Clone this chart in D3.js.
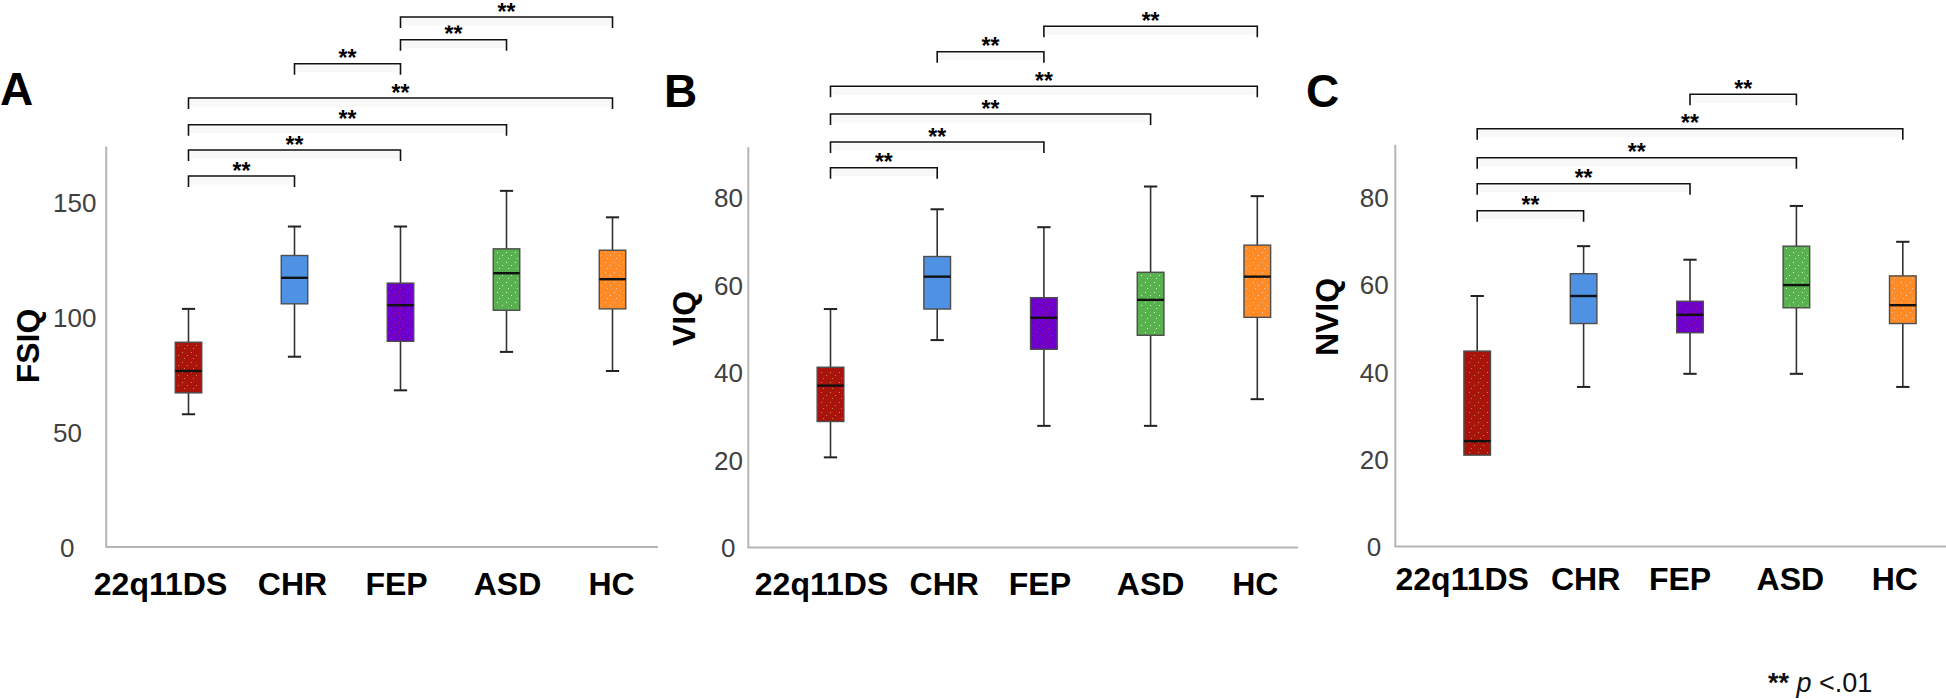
<!DOCTYPE html>
<html><head><meta charset="utf-8">
<script src="https://cdn.jsdelivr.net/npm/d3@7"></script>
<style>
body{margin:0;background:#fff;}
svg{display:block;font-family:"Liberation Sans",Arial,Helvetica,sans-serif;}
</style>
</head><body>
<svg id="chart" width="1946" height="699"></svg>
<script>
// ---------------- DATA ----------------
const groups = ["22q11DS", "CHR", "FEP", "ASD", "HC"];

// FSIQ box plot statistics
const fsiqLow    = [57.7, 82.7, 68.1, 84.8, 76.5];
const fsiqQ1     = [67.0, 105.7, 89.4, 102.9, 103.5];
const fsiqMedian = [76.5, 117.0, 105.1, 119.0, 116.4];
const fsiqQ3     = [89.0, 126.7, 114.7, 129.6, 129.0];
const fsiqHigh   = [103.5, 139.3, 139.3, 154.8, 143.3];
const fsiqTicks  = [0, 50, 100, 150];
const fsiqSig    = [[0,1],[0,2],[0,3],[0,4],[1,2],[2,3],[2,4]];

// VIQ box plot statistics
const viqLow    = [20.6, 47.4, 27.8, 27.8, 33.9];
const viqQ1     = [28.8, 54.5, 45.3, 48.5, 52.6];
const viqMedian = [37.0, 61.9, 52.5, 56.6, 61.9];
const viqQ3     = [41.2, 66.5, 57.1, 62.9, 69.1];
const viqHigh   = [54.5, 77.3, 73.2, 82.5, 80.3];
const viqTicks  = [0, 20, 40, 60, 80];
const viqSig    = [[0,1],[0,2],[0,3],[0,4],[1,2],[2,4]];

// NVIQ box plot statistics
const nviqLow    = [20.9, 36.5, 39.5, 39.5, 36.5];
const nviqQ1     = [20.9, 51.0, 48.9, 54.6, 51.0];
const nviqMedian = [24.1, 57.3, 53.0, 59.8, 55.2];
const nviqQ3     = [44.7, 62.4, 56.1, 68.7, 61.9];
const nviqHigh   = [57.3, 68.7, 65.6, 77.9, 69.7];
const nviqTicks  = [0, 20, 40, 60, 80];
const nviqSig    = [[0,1],[0,2],[0,3],[0,4],[2,3]];

const footnoteStars = "**";
const footnoteP = "p";
const footnoteRest = " <.01";

// ---------------- LAYOUT / STYLE ----------------
const fills = ["#a8140b", "#4f92e4", "#6f00cc", "#58b04f", "#ff8b27"];
const dots  = ["#b5a83a", null, "#c0203a", "#e8ffe8", "#c9dcf7"];

const panels = [
  { letter:"A", title:"FSIQ", low:fsiqLow, q1:fsiqQ1, med:fsiqMedian, q3:fsiqQ3, high:fsiqHigh,
    ticks:fsiqTicks, sig:fsiqSig,
    axisX:105.7, axisTop:146, axisBottom:547, vmax:174.3, xEnd:658,
    firstCenter:188.5, step:106, tickLabelOff:-52.7, catBase:595,
    catDx:[-28,-2,-4,1,-1],
    letterX:0, letterBase:105, titleX:39, titleY:346,
    br:[176,150,124.7,98,63.7,39.7,17] },
  { letter:"B", title:"VIQ", low:viqLow, q1:viqQ1, med:viqMedian, q3:viqQ3, high:viqHigh,
    ticks:viqTicks, sig:viqSig,
    axisX:747.8, axisTop:146.7, axisBottom:547.5, vmax:91.6, xEnd:1298,
    firstCenter:830.5, step:106.7, tickLabelOff:-33.8, catBase:595,
    catDx:[-9,7,-4,0,-2],
    letterX:664, letterBase:107, titleX:695, titleY:318.5,
    br:[167.7,142,114,86.3,51.7,26.3] },
  { letter:"C", title:"NVIQ", low:nviqLow, q1:nviqQ1, med:nviqMedian, q3:nviqQ3, high:nviqHigh,
    ticks:nviqTicks, sig:nviqSig,
    axisX:1394.8, axisTop:144.3, axisBottom:546.5, vmax:92.0, xEnd:1946,
    firstCenter:1477.2, step:106.4, tickLabelOff:-35, catBase:590,
    catDx:[-15,2,-10,-6,-8],
    letterX:1306, letterBase:107, titleX:1338, titleY:317,
    br:[210.7,183.7,157.7,128.7,94.3] }
];

const svg = d3.select("#chart");
const defs = svg.append("defs");

// speckle patterns for the boxes
fills.forEach((f, i) => {
  if (!dots[i]) return;
  const p = defs.append("pattern").attr("id", "dots" + i)
    .attr("patternUnits", "userSpaceOnUse").attr("width", 9).attr("height", 10);
  [[2,2],[7,5],[4,8]].forEach(([cx, cy]) => {
    p.append("rect").attr("x", cx).attr("y", cy).attr("width", 1).attr("height", 1)
      .attr("fill", dots[i]).attr("opacity", 0.85);
  });
});

panels.forEach(P => {
  const g = svg.append("g");
  const y = d3.scaleLinear().domain([0, P.vmax]).range([P.axisBottom, P.axisTop]);
  const x = d3.scaleBand().domain(groups)
    .range([P.firstCenter - P.step / 2, P.firstCenter - P.step / 2 + P.step * groups.length])
    .paddingInner(0).paddingOuter(0);
  const cx = gname => x(gname) + x.bandwidth() / 2;
  const bw = P.step * 0.25;

  // y axis
  const ya = g.append("g").attr("transform", `translate(${P.axisX},0)`)
    .call(d3.axisLeft(y).tickValues(P.ticks).tickSize(0).tickSizeOuter(0).tickFormat(d3.format("d")));
  ya.select(".domain").attr("stroke", "#b5b5b5").attr("stroke-width", 2);
  ya.selectAll(".tick text")
    .attr("x", d => P.tickLabelOff + (d === 0 ? 7 : 0))
    .attr("dy", "0.36em")
    .attr("text-anchor", "start")
    .attr("fill", "#404040")
    .style("font-size", "26px")
    .style("font-family", "'Liberation Sans', Arial, sans-serif");

  // x axis baseline
  g.append("line").attr("x1", P.axisX).attr("x2", P.xEnd)
    .attr("y1", y(0)).attr("y2", y(0))
    .attr("stroke", "#b5b5b5").attr("stroke-width", 2);

  // category labels via band axis
  const xa = g.append("g").attr("transform", `translate(0,${y(0)})`)
    .call(d3.axisBottom(x).tickSize(0));
  xa.select(".domain").remove();
  xa.selectAll(".tick text")
    .attr("y", P.catBase - y(0)).attr("dy", 0)
    .attr("dx", (d, i) => P.catDx[i])
    .attr("fill", "#000")
    .style("font-size", "32px").style("font-weight", "bold")
    .style("font-family", "'Liberation Sans', Arial, sans-serif");

  // boxes
  groups.forEach((gname, i) => {
    const c = cx(gname);
    g.append("line").attr("x1", c).attr("x2", c).attr("y1", y(P.high[i])).attr("y2", y(P.q3[i]))
      .attr("stroke", "#333").attr("stroke-width", 1.6);
    g.append("line").attr("x1", c).attr("x2", c).attr("y1", y(P.q1[i])).attr("y2", y(P.low[i]))
      .attr("stroke", "#333").attr("stroke-width", 1.6);
    [P.high[i], P.low[i]].forEach(v => {
      if (v === P.q1[i]) return;
      g.append("line").attr("x1", c - bw / 4).attr("x2", c + bw / 4)
        .attr("y1", y(v)).attr("y2", y(v)).attr("stroke", "#222").attr("stroke-width", 2);
    });
    g.append("rect").attr("x", c - bw / 2).attr("width", bw)
      .attr("y", y(P.q3[i])).attr("height", y(P.q1[i]) - y(P.q3[i]))
      .attr("fill", fills[i]).attr("stroke", "#4d4d4d").attr("stroke-width", 1.4);
    if (dots[i]) {
      g.append("rect").attr("x", c - bw / 2 + 2).attr("width", bw - 4)
        .attr("y", y(P.q3[i]) + 2).attr("height", Math.max(0, y(P.q1[i]) - y(P.q3[i]) - 4))
        .attr("fill", `url(#dots${i})`);
    }
    g.append("line").attr("x1", c - bw / 2).attr("x2", c + bw / 2)
      .attr("y1", y(P.med[i])).attr("y2", y(P.med[i]))
      .attr("stroke", "#111").attr("stroke-width", 2.4);
  });

  // significance brackets
  P.sig.forEach((pair, k) => {
    const x1 = cx(groups[pair[0]]), x2 = cx(groups[pair[1]]);
    const by = P.br[k], tick = 11;
    g.append("rect").attr("x", x1 + 2).attr("width", x2 - x1 - 4)
      .attr("y", by + 1.5).attr("height", 7).attr("fill", "#f8f8f8");
    g.append("path")
      .attr("d", `M${x1},${by + tick}V${by}H${x2}V${by + tick}`)
      .attr("fill", "none").attr("stroke", "#111").attr("stroke-width", 1.6);
    g.append("text").attr("x", (x1 + x2) / 2).attr("y", by - 10.5 + 13)
      .attr("text-anchor", "middle")
      .style("font-size", "23px").style("font-weight", "bold")
      .text("**");
  });

  // panel letter
  g.append("text").attr("x", P.letterX).attr("y", P.letterBase)
    .style("font-size", "46px").style("font-weight", "bold").text(P.letter);

  // y title
  g.append("text").attr("transform", `translate(${P.titleX},${P.titleY}) rotate(-90)`)
    .attr("text-anchor", "middle")
    .style("font-size", "32px").style("font-weight", "bold").text(P.title);
});

// footnote
const fn = svg.append("text").attr("x", 1768).attr("y", 692).style("font-size", "27px").attr("fill", "#111");
fn.append("tspan").style("font-weight", "bold").text(footnoteStars + " ");
fn.append("tspan").style("font-style", "italic").text(footnoteP);
fn.append("tspan").text(footnoteRest);
</script>
</body></html>
